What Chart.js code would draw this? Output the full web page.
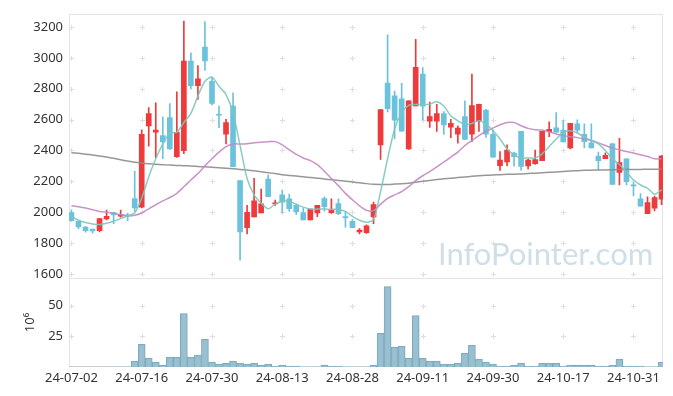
<!DOCTYPE html>
<html>
<head>
<meta charset="utf-8">
<script src="https://cdn.jsdelivr.net/npm/chart.js@4"></script>
<style>
  html, body { margin: 0; padding: 0; background: #fff; }
  #wrap { width: 673px; height: 396px; }
</style>
</head>
<body>
<div id="wrap"><canvas id="stockChart" width="673" height="396"></canvas></div>
<script>
// trading days (YY-MM-DD)
const dates = [
  '24-07-02','24-07-03','24-07-04','24-07-05','24-07-08','24-07-09','24-07-10','24-07-11','24-07-12','24-07-15',
  '24-07-16','24-07-17','24-07-18','24-07-19','24-07-22','24-07-23','24-07-24','24-07-25','24-07-26','24-07-29',
  '24-07-30','24-07-31','24-08-01','24-08-02','24-08-05','24-08-06','24-08-07','24-08-08','24-08-09','24-08-12',
  '24-08-13','24-08-14','24-08-16','24-08-19','24-08-20','24-08-21','24-08-22','24-08-23','24-08-26','24-08-27',
  '24-08-28','24-08-29','24-08-30','24-09-02','24-09-03','24-09-04','24-09-05','24-09-06','24-09-09','24-09-10',
  '24-09-11','24-09-12','24-09-13','24-09-19','24-09-20','24-09-23','24-09-24','24-09-25','24-09-26','24-09-27',
  '24-09-30','24-10-02','24-10-04','24-10-07','24-10-08','24-10-10','24-10-11','24-10-14','24-10-15','24-10-16',
  '24-10-17','24-10-18','24-10-21','24-10-22','24-10-23','24-10-24','24-10-25','24-10-28','24-10-29','24-10-30',
  '24-10-31','24-11-01','24-11-04','24-11-05','24-11-06'
];

const openP = [
  1998,1941,1903,1890,1881,1956,1997,1975,1980,2088,
  2033,2558,2519,2496,2613,2359,2398,2978,2820,3070,
  2848,2632,2506,2688,2204,1899,1969,1995,2214,2054,
  2112,2086,2044,1997,1950,1995,2088,1997,2056,1969,
  1941,1873,1867,1969,2436,2837,2754,2735,2410,2688,
  2895,2590,2590,2639,2551,2506,2620,2506,2590,2662,
  2504,2302,2325,2383,2524,2300,2314,2334,2521,2547,
  2530,2417,2573,2504,2449,2364,2347,2442,2257,2346,
  2174,2086,1990,2026,2084
];
const highP = [
  2015,1945,1909,1890,1958,2014,1997,2014,1995,2265,
  2534,2677,2709,2617,2703,2779,3238,3033,2950,3234,
  2873,2688,2602,2773,2204,2044,2219,2150,2240,2078,
  2144,2116,2052,2027,2020,2044,2099,2086,2086,2005,
  1952,1894,1918,2065,2664,3148,2784,2835,2722,3119,
  2937,2713,2698,2652,2602,2560,2722,2895,2700,2666,
  2534,2393,2436,2389,2524,2346,2402,2524,2585,2645,
  2594,2575,2598,2573,2573,2389,2385,2447,2479,2346,
  2191,2120,2099,2105,2368
];
const lowP = [
  1940,1894,1871,1864,1873,1950,1926,1967,1943,2005,
  2027,2428,2353,2346,2406,2355,2379,2799,2730,2918,
  2694,2547,2442,2295,1690,1860,1969,1995,2101,2044,
  1995,2005,1984,1950,1950,1971,2007,1992,1984,1903,
  1899,1860,1862,1926,2342,2649,2474,2524,2406,2688,
  2598,2549,2523,2504,2483,2447,2472,2457,2523,2485,
  2357,2270,2300,2298,2272,2280,2310,2334,2489,2519,
  2455,2410,2517,2417,2417,2276,2347,2180,2176,2176,
  2105,2039,1990,2009,2048
];
const closeP = [
  1945,1905,1881,1879,1958,1973,1982,1982,1975,2027,
  2504,2639,2532,2455,2410,2517,2978,2820,2863,2980,
  2705,2628,2581,2295,1873,1999,2073,2054,2101,2060,
  2065,2022,2001,1950,2020,2044,2035,2016,1990,1965,
  1899,1884,1911,2050,2664,2671,2596,2524,2722,2939,
  2686,2620,2639,2566,2575,2545,2472,2690,2698,2506,
  2357,2338,2402,2359,2297,2338,2340,2524,2536,2519,
  2455,2575,2532,2457,2417,2334,2368,2180,2321,2197,
  2170,2039,2063,2095,2364
];

const ma5 = [
  1971,1948,1933,1924,1920,1928,1941,1958,1977,1995,
  2090,2229,2346,2442,2513,2517,2581,2640,2752,2848,
  2875,2816,2762,2645,2432,2218,2112,2058,2022,2052,
  2073,2069,2052,2033,2020,2020,2020,2018,2018,2005,
  1973,1948,1935,1952,2133,2346,2539,2645,2692,2698,
  2698,2700,2715,2688,2624,2592,2570,2575,2592,2570,
  2528,2474,2410,2372,2351,2351,2351,2378,2425,2474,
  2517,2528,2513,2485,2464,2442,2400,2346,2308,2261,
  2208,2176,2155,2116,2144
];
const ma20 = [
  2041,2035,2027,2016,2005,1999,1993,1984,1977,1980,
  1995,2022,2048,2073,2095,2122,2165,2208,2250,2300,
  2346,2389,2425,2442,2442,2444,2449,2453,2457,2457,
  2436,2404,2374,2351,2334,2308,2265,2218,2172,2122,
  2080,2041,2012,2010,2052,2090,2112,2133,2165,2204,
  2236,2263,2293,2325,2357,2389,2432,2464,2496,2523,
  2545,2566,2581,2581,2560,2543,2534,2532,2520,2507,
  2496,2489,2483,2474,2464,2449,2432,2415,2404,2393,
  2383,2372,2361,2346,2346
];
const maLong = [
  2385,2381,2376,2370,2364,2357,2349,2340,2331,2323,
  2318,2314,2311,2308,2305,2303,2301,2299,2296,2294,
  2291,2288,2285,2281,2277,2273,2268,2262,2256,2250,
  2243,2238,2234,2229,2225,2220,2215,2210,2206,2201,
  2196,2190,2185,2181,2180,2180,2182,2184,2188,2194,
  2200,2206,2211,2216,2220,2224,2228,2232,2236,2239,
  2241,2243,2245,2246,2248,2250,2253,2256,2258,2261,
  2264,2267,2269,2271,2272,2273,2274,2275,2276,2276,
  2277,2277,2278,2278,2278
];

// volume, millions of shares
const volume = [
  0.2,0.2,0.2,0.2,0.2,0.2,0.2,0.2,0.2,4.8,
  18.5,7.3,4.0,1.6,8.1,8.1,43.5,8.1,9.7,22.6,
  4.0,2.4,3.0,4.8,3.2,2.4,3.2,1.6,2.4,0.8,
  1.6,0.8,0.8,0.2,0.2,0.2,1.6,0.8,0.8,0.2,
  0.2,0.2,0.2,1.6,27.4,65.5,16.1,16.9,7.3,41.9,
  7.3,4.8,4.8,2.4,2.4,3.2,11.3,17.7,6.4,4.0,
  2.4,0.8,0.8,1.6,3.2,0.8,0.8,3.2,3.2,3.2,
  0.8,1.6,1.6,1.6,1.6,0.8,0.8,1.6,6.4,0.8,
  0.8,0.8,0.2,0.2,4.0
];

const xTickIdx = [0, 10, 20, 30, 40, 50, 60, 70, 80];
const priceTicks = [1600, 1800, 2000, 2200, 2400, 2600, 2800, 3000, 3200];
const volTicks = [25, 50];

const UP = '#ee3a3b';
const DOWN = '#6bc2dc';
const candleColors = closeP.map((c, i) => c >= openP[i] ? UP : DOWN);
const pts = arr => arr.map((v, i) => ({ x: i, y: v }));

// grid crosses, frame and watermark
const framePlugin = {
    id: 'frame',
    beforeDatasetsDraw(chart) {
        const ctx = chart.ctx;
        const a = chart.chartArea;
        const xs = chart.scales.x, yp = chart.scales.y, yv = chart.scales.yVol;

        ctx.save();
        ctx.strokeStyle = '#e4e4e4';
        ctx.lineWidth = 1;
        ctx.strokeRect(Math.round(a.left) + 0.5, Math.round(a.top) + 0.5,
            Math.round(a.right - a.left) - 1, Math.round(a.bottom - a.top) - 1);
        ctx.beginPath();
        ctx.moveTo(a.left, Math.round(yv.top) + 0.5);
        ctx.lineTo(a.right, Math.round(yv.top) + 0.5);
        ctx.stroke();

        ctx.strokeStyle = '#dedede';
        const cross = (px, py) => {
            px = Math.round(px) + 0.5; py = Math.round(py) + 0.5;
            ctx.beginPath();
            ctx.moveTo(px - 2.5, py); ctx.lineTo(px + 2.5, py);
            ctx.moveTo(px, py - 2.5); ctx.lineTo(px, py + 2.5);
            ctx.stroke();
        };
        xTickIdx.forEach(v => {
            const px = xs.getPixelForValue(v);
            priceTicks.forEach(p => cross(px, yp.getPixelForValue(p)));
            volTicks.forEach(p => cross(px, yv.getPixelForValue(p)));
        });

        ctx.fillStyle = '#cfdfe8';
        ctx.font = '31px Lato';
        ctx.textAlign = 'left';
        ctx.textBaseline = 'alphabetic';
        ctx.fillText('InfoPointer.com', 438, 265);
        ctx.restore();
    }
};

Chart.defaults.font.family = "'Noto Sans', sans-serif";
Chart.defaults.font.size = 13;
Chart.defaults.color = '#333';

new Chart(document.getElementById('stockChart'), {
    data: {
        datasets: [
            {
                type: 'line',
                data: pts(ma5),
                yAxisID: 'y',
                borderColor: 'rgba(125, 198, 188, 0.9)',
                borderWidth: 1.5,
                pointRadius: 0,
                tension: 0.25,
                order: 1
            },
            {
                type: 'line',
                data: pts(ma20),
                yAxisID: 'y',
                borderColor: 'rgba(196, 135, 194, 0.9)',
                borderWidth: 1.5,
                pointRadius: 0,
                tension: 0.25,
                order: 1
            },
            {
                type: 'line',
                data: pts(maLong),
                yAxisID: 'y',
                borderColor: 'rgba(140, 140, 140, 0.9)',
                borderWidth: 1.5,
                pointRadius: 0,
                tension: 0.25,
                order: 1
            },
            {
                type: 'bar',
                data: openP.map((o, i) => ({ x: i, y: [o, closeP[i]] })),
                yAxisID: 'y',
                backgroundColor: candleColors,
                barThickness: 5,
                minBarLength: 1,
                grouped: false,
                order: 3
            },
            {
                type: 'bar',
                data: lowP.map((l, i) => ({ x: i, y: [l, highP[i]] })),
                yAxisID: 'y',
                backgroundColor: candleColors,
                barThickness: 1,
                grouped: false,
                order: 4
            },
            {
                type: 'bar',
                data: pts(volume),
                yAxisID: 'yVol',
                backgroundColor: 'rgba(148, 189, 206, 0.95)',
                borderColor: '#7fa9bd',
                borderWidth: 1,
                barPercentage: 1,
                categoryPercentage: 1,
                grouped: false,
                order: 5
            }
        ]
    },
    options: {
        responsive: false,
        animation: false,
        layout: { padding: { top: 10, right: 10, left: 0, bottom: 0 } },
        plugins: {
            legend: { display: false },
            tooltip: { enabled: false }
        },
        scales: {
            x: {
                type: 'linear',
                offset: false,
                min: -0.35,
                max: 84.2,
                grid: { display: false, drawTicks: false, offset: false },
                border: { display: false },
                afterBuildTicks: s => { s.ticks = xTickIdx.map(v => ({ value: v })); },
                afterFit: s => {
                    s.height = 29;
                    s.paddingLeft = 0;
                    s.paddingRight = 0;
                },
                ticks: {
                    padding: 3,
                    maxRotation: 0,
                    autoSkip: false,
                    callback: v => dates[v]
                }
            },
            yVol: {
                type: 'linear',
                position: 'left',
                stack: 'panels',
                stackWeight: 90,
                min: 0,
                max: 72.6,
                grid: { display: false, drawTicks: false },
                border: { display: false },
                afterBuildTicks: s => { s.ticks = volTicks.map(v => ({ value: v })); },
                afterFit: s => { s.width = 69; },
                ticks: { padding: 6, autoSkip: false },
                title: {
                    display: true,
                    text: '10\u2076',
                    padding: { top: 22, bottom: 0 },
                    font: { size: 13 }
                }
            },
            y: {
                type: 'linear',
                position: 'left',
                stack: 'panels',
                stackWeight: 267,
                min: 1574,
                max: 3285,
                grid: { display: false, drawTicks: false },
                border: { display: false },
                afterBuildTicks: s => { s.ticks = priceTicks.map(v => ({ value: v })); },
                afterFit: s => { s.width = 69; },
                ticks: {
                    padding: 6,
                    autoSkip: false,
                    callback: v => String(v)
                }
            }
        }
    },
    plugins: [framePlugin]
});
</script>
</body>
</html>
